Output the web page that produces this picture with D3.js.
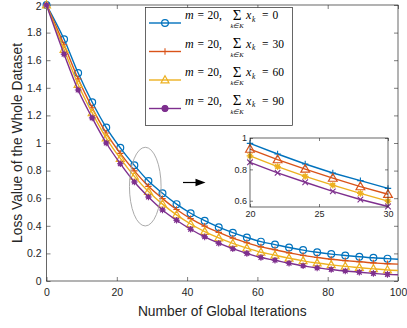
<!DOCTYPE html>
<html><head><meta charset="utf-8">
<script src="https://cdn.jsdelivr.net/npm/d3@7"></script>
<style>body{margin:0;background:#fff}svg{display:block}</style>
</head><body>
<svg id="c" width="407" height="328"></svg>
<script>
// ---------------- data ----------------
const iterations = [0,5,9,13,17,21,25,29,33,37,41,45,49,53,57,61,65,69,73,77,81,85,89,93,97,100];
const lossSum0  = [2.0,1.752,1.507,1.295,1.112,0.965,0.838,0.724,0.636,0.557,0.491,0.437,0.390,0.350,0.315,0.285,0.264,0.243,0.224,0.208,0.195,0.185,0.176,0.168,0.162,0.158];
const lossSum30 = [2.0,1.712,1.465,1.255,1.072,0.925,0.798,0.686,0.597,0.518,0.452,0.398,0.352,0.311,0.277,0.247,0.226,0.204,0.186,0.170,0.158,0.148,0.139,0.131,0.125,0.122];
const lossSum60 = [2.0,1.678,1.424,1.218,1.036,0.888,0.758,0.648,0.557,0.479,0.413,0.358,0.312,0.272,0.238,0.208,0.187,0.165,0.146,0.130,0.117,0.106,0.097,0.088,0.080,0.076];
const lossSum90 = [2.0,1.644,1.384,1.182,1.000,0.850,0.717,0.609,0.515,0.440,0.375,0.320,0.274,0.234,0.200,0.170,0.150,0.129,0.110,0.095,0.083,0.072,0.063,0.055,0.048,0.045];

const insetIterations = [20,22,24,26,28,30];
const insetSum0  = [0.966,0.898,0.834,0.777,0.728,0.679];
const insetSum30 = [0.929,0.862,0.802,0.744,0.690,0.641];
const insetSum60 = [0.886,0.817,0.755,0.699,0.647,0.597];
const insetSum90 = [0.845,0.778,0.718,0.660,0.608,0.563];

const xTicks = [0,20,40,60,80,100];
const yTicks = [0,0.2,0.4,0.6,0.8,1,1.2,1.4,1.6,1.8,2];
const insetXTicks = [20,25,30];
const insetYTicks = [0.6,0.8,1];
const mValue = 20;
const sumValues = [0,30,60,90];
const xLabel = "Number of Global Iterations";
const yLabel = "Loss Value of the Whole Dataset";

// ---------------- styles ----------------
const colors = ["#0072BD","#D95319","#EDB120","#7E2F8E"];
const axisColor = "#262626";
const sansFont = "'Liberation Sans', Arial, Helvetica, sans-serif";
const serifFont = "'Liberation Serif', 'Times New Roman', serif";

const svg = d3.select("#c");
const plot = {l:46.5, r:398, t:5, b:281};
const x = d3.scaleLinear().domain([0,100]).range([plot.l, plot.r]);
const y = d3.scaleLinear().domain([0,2]).range([plot.b, plot.t]);

function drawMarker(g, type, s, color) {
  if (type === "circle") {
    g.append("circle").attr("r", s).attr("fill","none").attr("stroke",color).attr("stroke-width",1.2);
  } else if (type === "plus") {
    g.append("path").attr("d",`M${-s},0H${s}M0,${-s}V${s}`).attr("stroke",color).attr("stroke-width",1.1).attr("fill","none");
  } else if (type === "triangle") {
    g.append("path").attr("d",`M0,${-s}L${s*0.95},${s*0.68}L${-s*0.95},${s*0.68}Z`).attr("stroke",color).attr("stroke-width",1.2).attr("fill","none");
  } else if (type === "star") {
    g.append("circle").attr("r", s*0.7).attr("fill",color);
    const a = s, b = s*0.72;
    g.append("path").attr("d",`M${-a},0H${a}M0,${-a}V${a}M${-b},${-b}L${b},${b}M${-b},${b}L${b},${-b}`).attr("stroke",color).attr("stroke-width",1.1);
  } else if (type === "dot") {
    g.append("circle").attr("r", s).attr("fill",color).attr("stroke",color);
  } else if (type === "cross") {
    g.append("path").attr("d",`M${-s},${-s}L${s},${s}M${-s},${s}L${s},${-s}`).attr("stroke",color).attr("stroke-width",1.1);
  }
}

// ---------------- main axes ----------------
const axG = svg.append("g").attr("font-family", sansFont);
const fmt = d => d3.format("~g")(d);

const xAxis = axG.append("g").attr("transform",`translate(0,${plot.b})`)
  .call(d3.axisBottom(x).tickValues(xTicks).tickSizeInner(-4).tickSizeOuter(0).tickPadding(8).tickFormat(fmt));
const yAxis = axG.append("g").attr("transform",`translate(${plot.l},0)`)
  .call(d3.axisLeft(y).tickValues(yTicks).tickSizeInner(-4).tickSizeOuter(0).tickPadding(5).tickFormat(fmt));
const xTop = axG.append("g").attr("transform",`translate(0,${plot.t})`)
  .call(d3.axisTop(x).tickValues(xTicks).tickSizeInner(-4).tickSizeOuter(0).tickFormat(""));
const yRight = axG.append("g").attr("transform",`translate(${plot.r},0)`)
  .call(d3.axisRight(y).tickValues(yTicks).tickSizeInner(-4).tickSizeOuter(0).tickFormat(""));
[xAxis,yAxis,xTop,yRight].forEach(a=>{
  a.select(".domain").remove();
  a.selectAll("line").attr("stroke",axisColor).attr("stroke-width",0.6);
  a.selectAll("text").attr("fill",axisColor).attr("font-size",10.5);
});
xAxis.selectAll("text").attr("dy","0.71em");
yAxis.selectAll("text").attr("dy", d => d === 2 ? "0.45em" : "0.32em");
axG.append("rect").attr("x",plot.l).attr("y",plot.t).attr("width",plot.r-plot.l).attr("height",plot.b-plot.t)
  .attr("fill","none").attr("stroke",axisColor).attr("stroke-width",0.7);

axG.append("text").attr("x",(plot.l+plot.r)/2).attr("y",315.5).attr("text-anchor","middle")
  .attr("font-size",13.8).attr("fill",axisColor).text(xLabel);
axG.append("text").attr("transform",`translate(21.5,${(plot.t+plot.b)/2}) rotate(-90)`).attr("text-anchor","middle")
  .attr("font-size",13.8).attr("fill",axisColor).text(yLabel);

// ---------------- series ----------------
const series = [
  {vals: lossSum0,  inset: insetSum0,  marker:"circle",   size:3.4, insetMarker:"plus",     insetSize:3.2},
  {vals: lossSum30, inset: insetSum30, marker:"plus",     size:3.2, insetMarker:"triangle", insetSize:4.6},
  {vals: lossSum60, inset: insetSum60, marker:"triangle", size:4.2, insetMarker:"star",     insetSize:3.4},
  {vals: lossSum90, inset: insetSum90, marker:"star",     size:3.3, insetMarker:"cross",    insetSize:2.8},
];
const line = d3.line().x(d=>x(d[0])).y(d=>y(d[1])).curve(d3.curveMonotoneX);
const sg = svg.append("g");
series.forEach((s,i)=>{
  const pts = iterations.map((it,k)=>[it, s.vals[k]]);
  sg.append("path").attr("d", line(pts)).attr("fill","none").attr("stroke",colors[i]).attr("stroke-width",1.4);
  pts.filter(p=>p[0] < 100).forEach(p=>{
    const g = sg.append("g").attr("transform",`translate(${x(p[0])},${y(p[1])})`);
    drawMarker(g, s.marker, s.size, colors[i]);
  });
});

// ---------------- ellipse + arrow ----------------
svg.append("ellipse").attr("cx",x(28.1)).attr("cy",y(0.684))
  .attr("rx",x(4.5)-x(0)).attr("ry",y(0)-y(0.285))
  .attr("fill","none").attr("stroke","#A0A0A0").attr("stroke-width",0.9);
svg.append("line").attr("x1",183).attr("y1",182.5).attr("x2",198).attr("y2",182.5).attr("stroke","#000").attr("stroke-width",1.2);
svg.append("path").attr("d","M205.5,182.5L195.5,178.8L195.5,186.2Z").attr("fill","#000");

// ---------------- inset ----------------
const ins = {l:250, r:388, t:138, b:207};
const xi = d3.scaleLinear().domain([20,30]).range([ins.l, ins.r]);
const yi = d3.scaleLinear().domain([0.56,1]).range([ins.b, ins.t]);
const ig = svg.append("g").attr("font-family", sansFont);
ig.append("rect").attr("x",ins.l).attr("y",ins.t).attr("width",ins.r-ins.l).attr("height",ins.b-ins.t).attr("fill","#fff");
const ixA = ig.append("g").attr("transform",`translate(0,${ins.b})`)
  .call(d3.axisBottom(xi).tickValues(insetXTicks).tickSizeInner(-3).tickSizeOuter(0).tickPadding(4).tickFormat(fmt));
const iyA = ig.append("g").attr("transform",`translate(${ins.l},0)`)
  .call(d3.axisLeft(yi).tickValues(insetYTicks).tickSizeInner(-3).tickSizeOuter(0).tickPadding(3).tickFormat(fmt));
const ixT = ig.append("g").attr("transform",`translate(0,${ins.t})`)
  .call(d3.axisTop(xi).tickValues(insetXTicks).tickSizeInner(-3).tickSizeOuter(0).tickFormat(""));
const iyR = ig.append("g").attr("transform",`translate(${ins.r},0)`)
  .call(d3.axisRight(yi).tickValues(insetYTicks).tickSizeInner(-3).tickSizeOuter(0).tickFormat(""));
[ixA,iyA,ixT,iyR].forEach(a=>{
  a.select(".domain").remove();
  a.selectAll("line").attr("stroke",axisColor).attr("stroke-width",0.6);
  a.selectAll("text").attr("fill",axisColor).attr("font-size",9);
});
const iline = d3.line().x(d=>xi(d[0])).y(d=>yi(d[1]));
series.forEach((s,i)=>{
  const pts = insetIterations.map((it,k)=>[it, s.inset[k]]);
  ig.append("path").attr("d", iline(pts)).attr("fill","none").attr("stroke",colors[i]).attr("stroke-width",1.4);
  pts.forEach(p=>{
    const g = ig.append("g").attr("transform",`translate(${xi(p[0])},${yi(p[1])})`);
    drawMarker(g, s.insetMarker, s.insetSize, colors[i]);
  });
});
ig.append("rect").attr("x",ins.l).attr("y",ins.t).attr("width",ins.r-ins.l).attr("height",ins.b-ins.t)
  .attr("fill","none").attr("stroke",axisColor).attr("stroke-width",0.7);

// ---------------- legend ----------------
const lg = svg.append("g");
const leg = {l:145.5, t:7.5, r:292.5, b:125.5};
lg.append("rect").attr("x",leg.l).attr("y",leg.t).attr("width",leg.r-leg.l).attr("height",leg.b-leg.t)
  .attr("fill","#fff").attr("stroke",axisColor).attr("stroke-width",0.7);
const legMarkers = ["circle","plus","triangle","dot"];
const legSizes = [3.4,3.2,4.2,3.2];
sumValues.forEach((v,i)=>{
  const ry = 23 + i*28.5;
  lg.append("line").attr("x1",149).attr("x2",181).attr("y1",ry).attr("y2",ry).attr("stroke",colors[i]).attr("stroke-width",1.4);
  drawMarker(lg.append("g").attr("transform",`translate(165,${ry})`), legMarkers[i], legSizes[i], colors[i]);
  const t = lg.append("g").attr("font-family",serifFont).attr("fill","#000");
  const bl = ry - 3.7;
  t.append("text").attr("x",185).attr("y",bl).attr("font-size",12).attr("font-style","italic").text("m");
  t.append("text").attr("x",197.5).attr("y",bl).attr("font-size",11.5).text("=");
  t.append("text").attr("x",207.5).attr("y",bl).attr("font-size",11.5).text(`${mValue},`);
  t.append("text").attr("x",237).attr("y",bl+0.6).attr("font-size",15).attr("text-anchor","middle").text("\u03A3");
  t.append("text").attr("x",237).attr("y",ry+5.2).attr("font-size",6.5).attr("font-style","italic").attr("text-anchor","middle").text("k\u2208K");
  t.append("text").attr("x",246).attr("y",bl).attr("font-size",12).attr("font-style","italic").text("x");
  t.append("text").attr("x",252).attr("y",bl+2.5).attr("font-size",7.5).attr("font-style","italic").text("k");
  t.append("text").attr("x",262).attr("y",bl).attr("font-size",11.5).text("=");
  t.append("text").attr("x",272.5).attr("y",bl).attr("font-size",11.5).text(`${v}`);
});
</script>
</body></html>
